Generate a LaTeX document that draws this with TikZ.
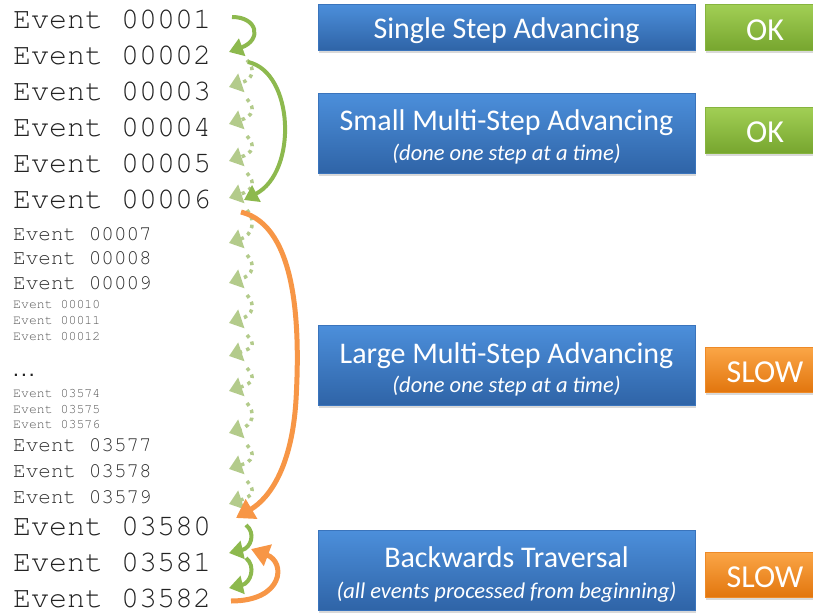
\documentclass[tikz,border=0pt]{standalone}
\usepackage{fontspec}
\usetikzlibrary{arrows.meta,shadows}
\newfontfamily\boxfont{Carlito}
\newfontfamily\dotfont{DejaVu Sans Mono}
% Courier for the event list
\newcommand{\evfont}{\fontencoding{OT1}\fontfamily{pcr}\fontseries{m}\fontshape{n}}
\definecolor{evdark}{HTML}{222222}
\definecolor{evmid}{HTML}{2E2E2E}
\definecolor{evlight}{HTML}{555555}
\definecolor{bluetop}{HTML}{4C8FDB}
\definecolor{bluebot}{HTML}{2F64A7}
\definecolor{blueedge}{HTML}{3A74BC}
\definecolor{greentop}{HTML}{A2CF55}
\definecolor{greenbot}{HTML}{77A62F}
\definecolor{greenedge}{HTML}{86B43E}
\definecolor{orangetop}{HTML}{FBA647}
\definecolor{orangebot}{HTML}{E2760E}
\definecolor{orangeedge}{HTML}{EE8A27}
\definecolor{arrgreen}{HTML}{8DB94E}
\definecolor{arrorange}{HTML}{F79646}
\definecolor{dotgreen}{HTML}{B3CB8B}
\tikzset{
  evL/.style={anchor=base west, inner sep=0pt, text=evdark,
    font=\evfont\fontsize{30}{30}\selectfont},
  evM/.style={anchor=base west, inner sep=0pt, text=evmid,
    font=\evfont\fontsize{21}{21}\selectfont},
  evS/.style={anchor=base west, inner sep=0pt, text=evlight,
    font=\evfont\fontsize{13.2}{13.2}\selectfont},
  panel/.style={rectangle, inner sep=0pt,
    drop shadow={shadow xshift=1pt, shadow yshift=-3pt, opacity=0.3}},
  bluebox/.style={panel, top color=bluetop, bottom color=bluebot,
    draw=blueedge, line width=0.8pt, minimum width=377pt},
  statusbox/.style={panel, minimum width=120pt},
  okbox/.style={statusbox, top color=greentop, bottom color=greenbot,
    draw=greenedge, line width=0.8pt},
  slowbox/.style={statusbox, top color=orangetop, bottom color=orangebot,
    draw=orangeedge, line width=0.8pt},
  boxtext/.style={anchor=base, inner sep=0pt, text=white},
  title/.style={boxtext, font=\boxfont\fontsize{30}{30}\selectfont},
  sub/.style={boxtext, font=\boxfont\itshape\fontsize{22.5}{22.5}\selectfont},
  verdict/.style={boxtext, font=\boxfont\fontsize{32}{32}\selectfont},
  greenarrow/.style={draw=arrgreen, line width=4pt,
    -{Triangle[length=14pt,width=18pt]}},
  orangearrow/.style={draw=arrorange, line width=5pt,
    -{Triangle[length=18pt,width=22pt]}},
  dotarrow/.style={draw=dotgreen, line width=3.5pt,
    dash pattern=on 3.5pt off 4.5pt,
    -{Triangle[length=13pt,width=19pt,fill=dotgreen]}}
}
\begin{document}
\begin{tikzpicture}[x=1pt,y=-1pt]
\useasboundingbox (0,0) rectangle (813,613);
\clip (0,0) rectangle (813,613);

% event list
\node[evL] (ev01) at (13,28)  {Event 00001};
\node[evL] (ev02) at (13,64)  {Event 00002};
\node[evL] (ev03) at (13,100) {Event 00003};
\node[evL] (ev04) at (13,136) {Event 00004};
\node[evL] (ev05) at (13,172) {Event 00005};
\node[evL] (ev06) at (13,208) {Event 00006};
\node[evM] (ev07) at (13,240) {Event 00007};
\node[evM] (ev08) at (13,264.5) {Event 00008};
\node[evM] (ev09) at (13,289) {Event 00009};
\node[evS] (ev10) at (13,308) {Event 00010};
\node[evS] (ev11) at (13,324) {Event 00011};
\node[evS] (ev12) at (13,340) {Event 00012};
\node[anchor=base west, inner sep=0pt, text=evdark,
      font=\dotfont\bfseries\fontsize{13}{13}\selectfont] (evdots) at (12,376) {...};
\node[evS] (ev13) at (13,397) {Event 03574};
\node[evS] (ev14) at (13,413) {Event 03575};
\node[evS] (ev15) at (13,428) {Event 03576};
\node[evM] (ev16) at (13,451) {Event 03577};
\node[evM] (ev17) at (13,477) {Event 03578};
\node[evM] (ev18) at (13,503) {Event 03579};
\node[evL] (ev19) at (13,535) {Event 03580};
\node[evL] (ev20) at (13,571) {Event 03581};
\node[evL] (ev21) at (13,607) {Event 03582};

% step-by-step dotted arrows
\foreach \s/\t in {60/86, 99/123, 136/160, 173/197, 210/242, 255/282,
                   295/322, 335/355, 368/390, 403/432, 445/468, 481/503}{
  \draw[dotarrow] (247,\s) .. controls (256,\s+10) and (253,\t-7) .. (229,\t+1);
}

% solid advancing arrows
\coordinate (g1s) at (232,17);
\coordinate (g1e) at (229,52);
\draw[greenarrow] (g1s) .. controls (258,17) and (262,40) .. (g1e);
\coordinate (g2s) at (248,62);
\coordinate (g2e) at (244,200);
\draw[greenarrow] (g2s) .. controls (294,72) and (298,172) .. (g2e);
\coordinate (o1s) at (241,212);
\coordinate (o1m) at (296,400);
\coordinate (o1e) at (236,518);
\draw[orangearrow] (o1s) .. controls (298,226) and (300,330) .. (o1m)
                          .. controls (292,466) and (270,498) .. (o1e);
\coordinate (g3s) at (246,525);
\coordinate (g3e) at (229,553);
\draw[greenarrow] (g3s) .. controls (256,533) and (251,548) .. (g3e);
\coordinate (g4s) at (246,558);
\coordinate (g4e) at (229,588);
\draw[greenarrow] (g4s) .. controls (256,566) and (251,583) .. (g4e);
\coordinate (o2s) at (231,601);
\coordinate (o2e) at (251,549);
\draw[orangearrow] (o2s) .. controls (284,601) and (286,562) .. (o2e);

% descriptions
\node[bluebox, minimum height=46pt] (b1) at (506.5,27) {};
\node[title] (b1t) at (506.5,38) {Single Step Advancing};
\node[bluebox, minimum height=80pt] (b2) at (506.5,133) {};
\node[title] (b2t) at (506.5,130) {Small Multi-Step Advancing};
\node[sub] (b2s) at (506.5,160) {(done one step at a time)};
\node[bluebox, minimum height=80pt] (b3) at (506.5,365) {};
\node[title] (b3t) at (506.5,363) {Large Multi-Step Advancing};
\node[sub] (b3s) at (506.5,392) {(done one step at a time)};
\node[bluebox, minimum height=80pt] (b4) at (506.5,570) {};
\node[title] (b4t) at (506.5,567) {Backwards Traversal};
\node[sub] (b4s) at (506.5,598) {(all events processed from beginning)};

% verdicts
\node[okbox, minimum height=46pt] (k1) at (765,27) {};
\node[verdict] (k1t) at (765,40) {OK};
\node[okbox, minimum height=46pt] (k2) at (765,130) {};
\node[verdict] (k2t) at (765,142) {OK};
\node[slowbox, minimum height=45pt] (k3) at (765,369.5) {};
\node[verdict] (k3t) at (765,382) {SLOW};
\node[slowbox, minimum height=45pt] (k4) at (765,574.5) {};
\node[verdict] (k4t) at (765,587) {SLOW};
\end{tikzpicture}
\end{document}
